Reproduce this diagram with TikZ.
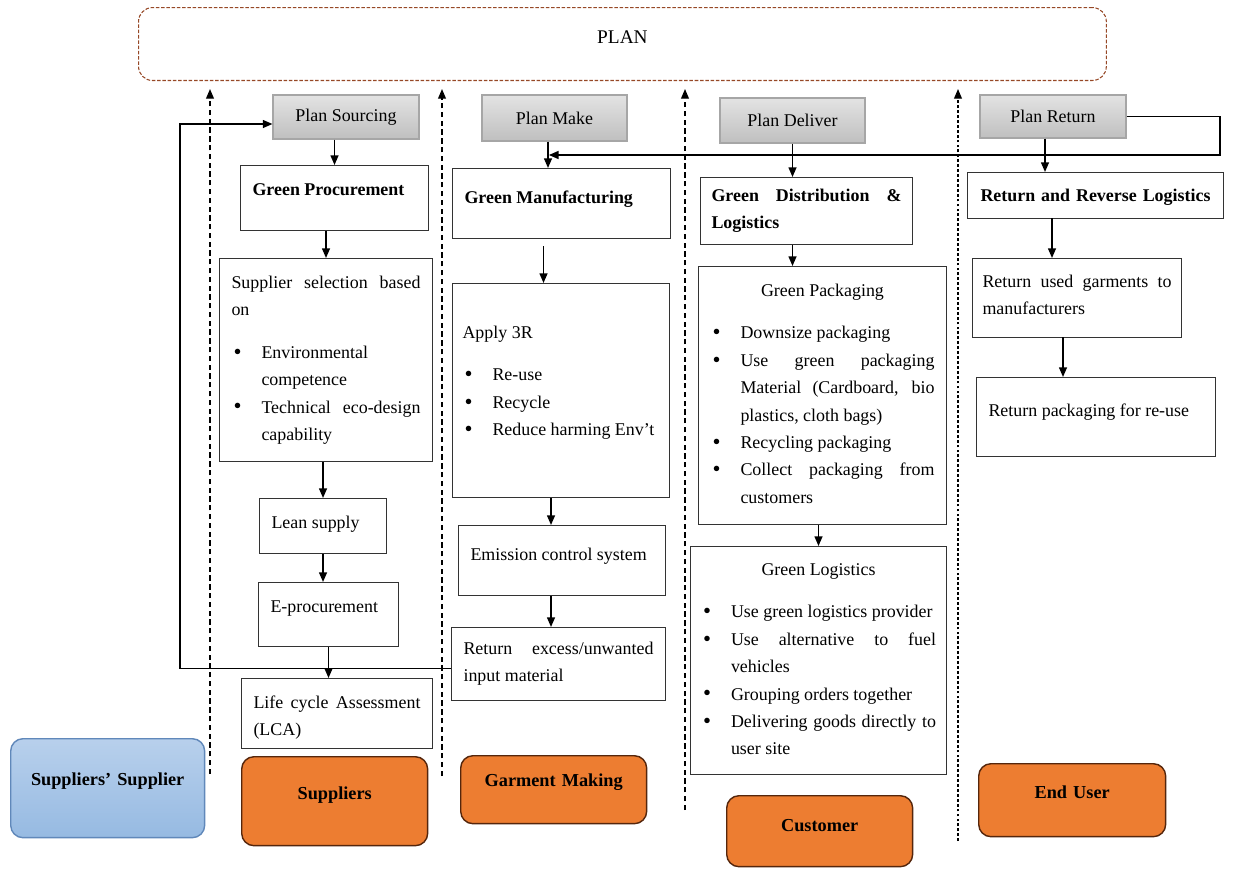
\documentclass[tikz,border=0pt]{standalone}
\usepackage{fontspec}
\setmainfont{Liberation Serif}
\usepackage{xcolor}
\usetikzlibrary{arrows.meta}
\definecolor{planbrown}{RGB}{150,72,38}
\definecolor{actororange}{RGB}{237,125,49}
\definecolor{actoredge}{RGB}{85,38,12}
\definecolor{bluetop}{RGB}{184,208,236}
\definecolor{bluebot}{RGB}{150,186,226}
\definecolor{blueedge}{RGB}{96,136,186}
\tikzset{>={Triangle[length=5.5pt,width=4.5pt]}}
\hyphenpenalty=10000
\exhyphenpenalty=10000
\tikzset{%
    box/.style={draw=black!80, line width=0.6pt, anchor=north west,
        inner xsep=0.24cm, inner ysep=0pt, align=justify, text height=0.6cm,
        font=\fontsize{10.2}{15.6}\selectfont\sloppy},
    heading/.style={font=\bfseries\fontsize{10.2}{15.6}\selectfont\sloppy},
    planbox/.style={draw=gray!70, line width=0.6pt, top color=gray!22, bottom color=gray!50,
        inner sep=0pt, font=\fontsize{10.2}{12}\selectfont},
    actor/.style={draw=actoredge, line width=0.8pt, fill=actororange, rounded corners=7pt,
        anchor=north west, inner sep=0pt, align=center,
        font=\bfseries\fontsize{10.4}{12}\selectfont},
    link/.style={->, line width=0.9pt},
    toplan/.style={->, line width=0.6pt, dash pattern=on 3pt off 2pt},
}
\newcommand{\bitem}[1]{\par\hangindent=0.6cm\hangafter=1\noindent
    \hbox to 0.6cm{\hspace{0.04cm}\raisebox{-0.4pt}{\fontsize{13}{13}\selectfont\textbullet}\hfil}#1}
\newcommand{\headgap}{\par\vspace{0.3cm}}

\begin{document}
\begin{tikzpicture}[x=0.02cm, y=-0.02cm]
\useasboundingbox (0,0) rectangle (1238,869);

% the plan band
\node[draw=planbrown, line width=0.6pt, dash pattern=on 2pt off 1pt, rounded corners=8pt,
    anchor=north west, inner sep=0pt, text width=19.36cm, align=center,
    text height=0.72cm, text depth=0.74cm, font=\fontsize{11}{13}\selectfont] (plan) at (138,7) {PLAN};

% dashed feedback to the plan
\foreach \n/\x/\yb in {d1/210/774, d2/442/776, d3/685/810}{
    \coordinate (\n) at (\x,\yb);
    \draw[toplan, shorten >=0.16cm] (\n) -- (\n |- plan.south);
}
\coordinate (d4) at (958,841);
\draw[toplan, dash pattern=on 1.6pt off 1.2pt, shorten >=0.16cm] (d4) -- (d4 |- plan.south);

% plan steps
\node[planbox, minimum width=2.92cm, minimum height=0.88cm] (psrc) at (346,117) {Plan Sourcing};
\node[planbox, minimum width=2.90cm, minimum height=0.92cm] (pmake) at (554.5,118) {Plan Make};
\node[planbox, minimum width=2.90cm, minimum height=0.90cm] (pdel) at (792.5,120.5) {Plan Deliver};
\node[planbox, minimum width=2.92cm, minimum height=0.86cm] (pret) at (1053,116.5) {Plan Return};

% sourcing column
\node[box, heading, text width=3.28cm, text depth=0.7cm] (gproc) at (240,165) {Green Procurement};
\node[box, text width=3.78cm, text depth=3.46cm] (selct) at (219,258) {Supplier selection based on\headgap
    \bitem{Environmental competence}
    \bitem{Technical eco-design capability}\par};
\node[box, text width=2.06cm, text depth=0.5cm] (lean) at (259,498) {Lean supply};
\node[box, text width=2.32cm, text depth=0.68cm] (eproc) at (258,582) {E-procurement};
\node[box, text width=3.34cm, text depth=0.8cm] (lca) at (241,678) {Life cycle Assessment (LCA)};

% make column
\node[box, heading, text width=3.88cm, text height=0.7cm, text depth=0.7cm] (gman) at (452,168) {Green Manufacturing};
\node[box, inner xsep=0.2cm, text width=3.94cm, text height=1.1cm, text depth=3.18cm] (three) at (452,283) {Apply 3R\headgap
    \bitem{Re-use}
    \bitem{Recycle}
    \bitem{Reduce harming Env’t}\par};
\node[box, text width=3.66cm, text height=0.7cm, text depth=0.7cm] (emis) at (458,525) {Emission control system};
\node[box, text width=3.8cm, text height=0.54cm, text depth=0.92cm] (rexc) at (451,627) {Return excess/unwanted input material};

% deliver column
\node[box, heading, inner xsep=0.22cm, text width=3.8cm, text height=0.48cm, text depth=0.86cm] (gdist) at (700,177) {Green Distribution \& Logistics};
\node[box, text width=4.48cm, text depth=4.56cm] (gpack) at (698,266) {\noindent\hbox to\hsize{\hfil Green Packaging\hfil}\headgap
    \bitem{Downsize packaging}
    \bitem{Use green packaging Material (Cardboard, bio plastics, cloth bags)}
    \bitem{Recycling packaging}
    \bitem{Collect packaging from customers}\par};
\node[box, inner xsep=0.21cm, text width=4.7cm, text height=0.58cm, text depth=3.98cm] (glog) at (690,546) {\noindent\hbox to\hsize{\hfil Green Logistics\hfil}\headgap
    \bitem{Use green logistics provider}
    \bitem{Use alternative to fuel vehicles}
    \bitem{Grouping orders together}
    \bitem{Delivering goods directly to user site}\par};

% return column
\node[box, heading, align=center, inner xsep=0.1cm, text width=4.92cm, text height=0.58cm, text depth=0.34cm] (rrev) at (967,172) {Return and Reverse Logistics};
\node[box, inner xsep=0.2cm, text width=3.78cm, text height=0.58cm, text depth=1.0cm] (rused) at (972,258) {Return used garments to manufacturers};
\node[box, text width=4.3cm, text height=0.78cm, text depth=0.8cm] (rpack) at (976,377) {Return packaging for re-use};

% actors
\node[actor, draw=blueedge, top color=bluetop, bottom color=bluebot, text width=3.88cm, text height=0.94cm, text depth=1.04cm] (ssup) at (10,738) {Suppliers’ Supplier};
\node[actor, text width=3.72cm, text height=0.86cm, text depth=0.92cm] (supp) at (241,756) {Suppliers};
\node[actor, text width=3.72cm, text height=0.62cm, text depth=0.74cm] (gmak) at (460,755) {Garment Making};
\node[actor, text width=3.72cm, text height=0.72cm, text depth=0.70cm] (cust) at (726,795) {Customer};
\node[actor, text width=3.74cm, text height=0.70cm, text depth=0.76cm] (euser) at (978,763) {End User};

% sourcing flow
\draw[link] (psrc.south -| gproc.north) -- (gproc.north);
\draw[link] (gproc.south -| selct.north) -- (selct.north);
\draw[link] (selct.south -| lean.north) -- (lean.north);
\draw[link] (lean.south) -- (lean.south |- eproc.north);
\draw[link] (eproc.south) -- (eproc.south |- lca.north);

% make flow
\coordinate (pmout) at ([xshift=-0.13cm]pmake.south);
\draw[link] (pmout) -- (pmout |- gman.north);
\coordinate (gmout) at ([xshift=-0.36cm]gman.south);
\draw[link, shorten <=0.14cm] (gmout) -- (gmout |- three.north);
\coordinate (trout) at ([xshift=-0.2cm]three.south);
\draw[link] (trout) -- (trout |- emis.north);
\draw[link] (trout |- emis.south) -- (trout |- rexc.north);

% return of excess input back to sourcing
\coordinate (fb) at (180,400);
\coordinate (rxout) at ([yshift=-0.09cm]rexc.west);
\coordinate (psin) at ([yshift=-0.14cm]psrc.west);
\draw[link] (rxout) -| (fb |- psin) -- (psin);

% deliver flow
\draw[link] (pdel.south) -- (pdel.south |- gdist.north);
\draw[link] (gdist.south -| pdel.south) -- (pdel.south |- gpack.north);
\draw[link] (gpack.south -| glog.north) -- (glog.north);

% return flow
\coordinate (prout) at ([xshift=-0.16cm]pret.south);
\draw[link] (prout) -- (prout |- rrev.north);
\coordinate (rrout) at (1052,218);
\draw[link] (rrout) -- (rrout |- rused.north);
\coordinate (ruout) at (1063,337);
\draw[link] (ruout) -- (ruout |- rpack.north);
\coordinate (rl) at (1220,155);
\draw[link, shorten >=0.5pt] (pret.east) -| (rl) -- (rl -| pmout);
\end{tikzpicture}
\end{document}
